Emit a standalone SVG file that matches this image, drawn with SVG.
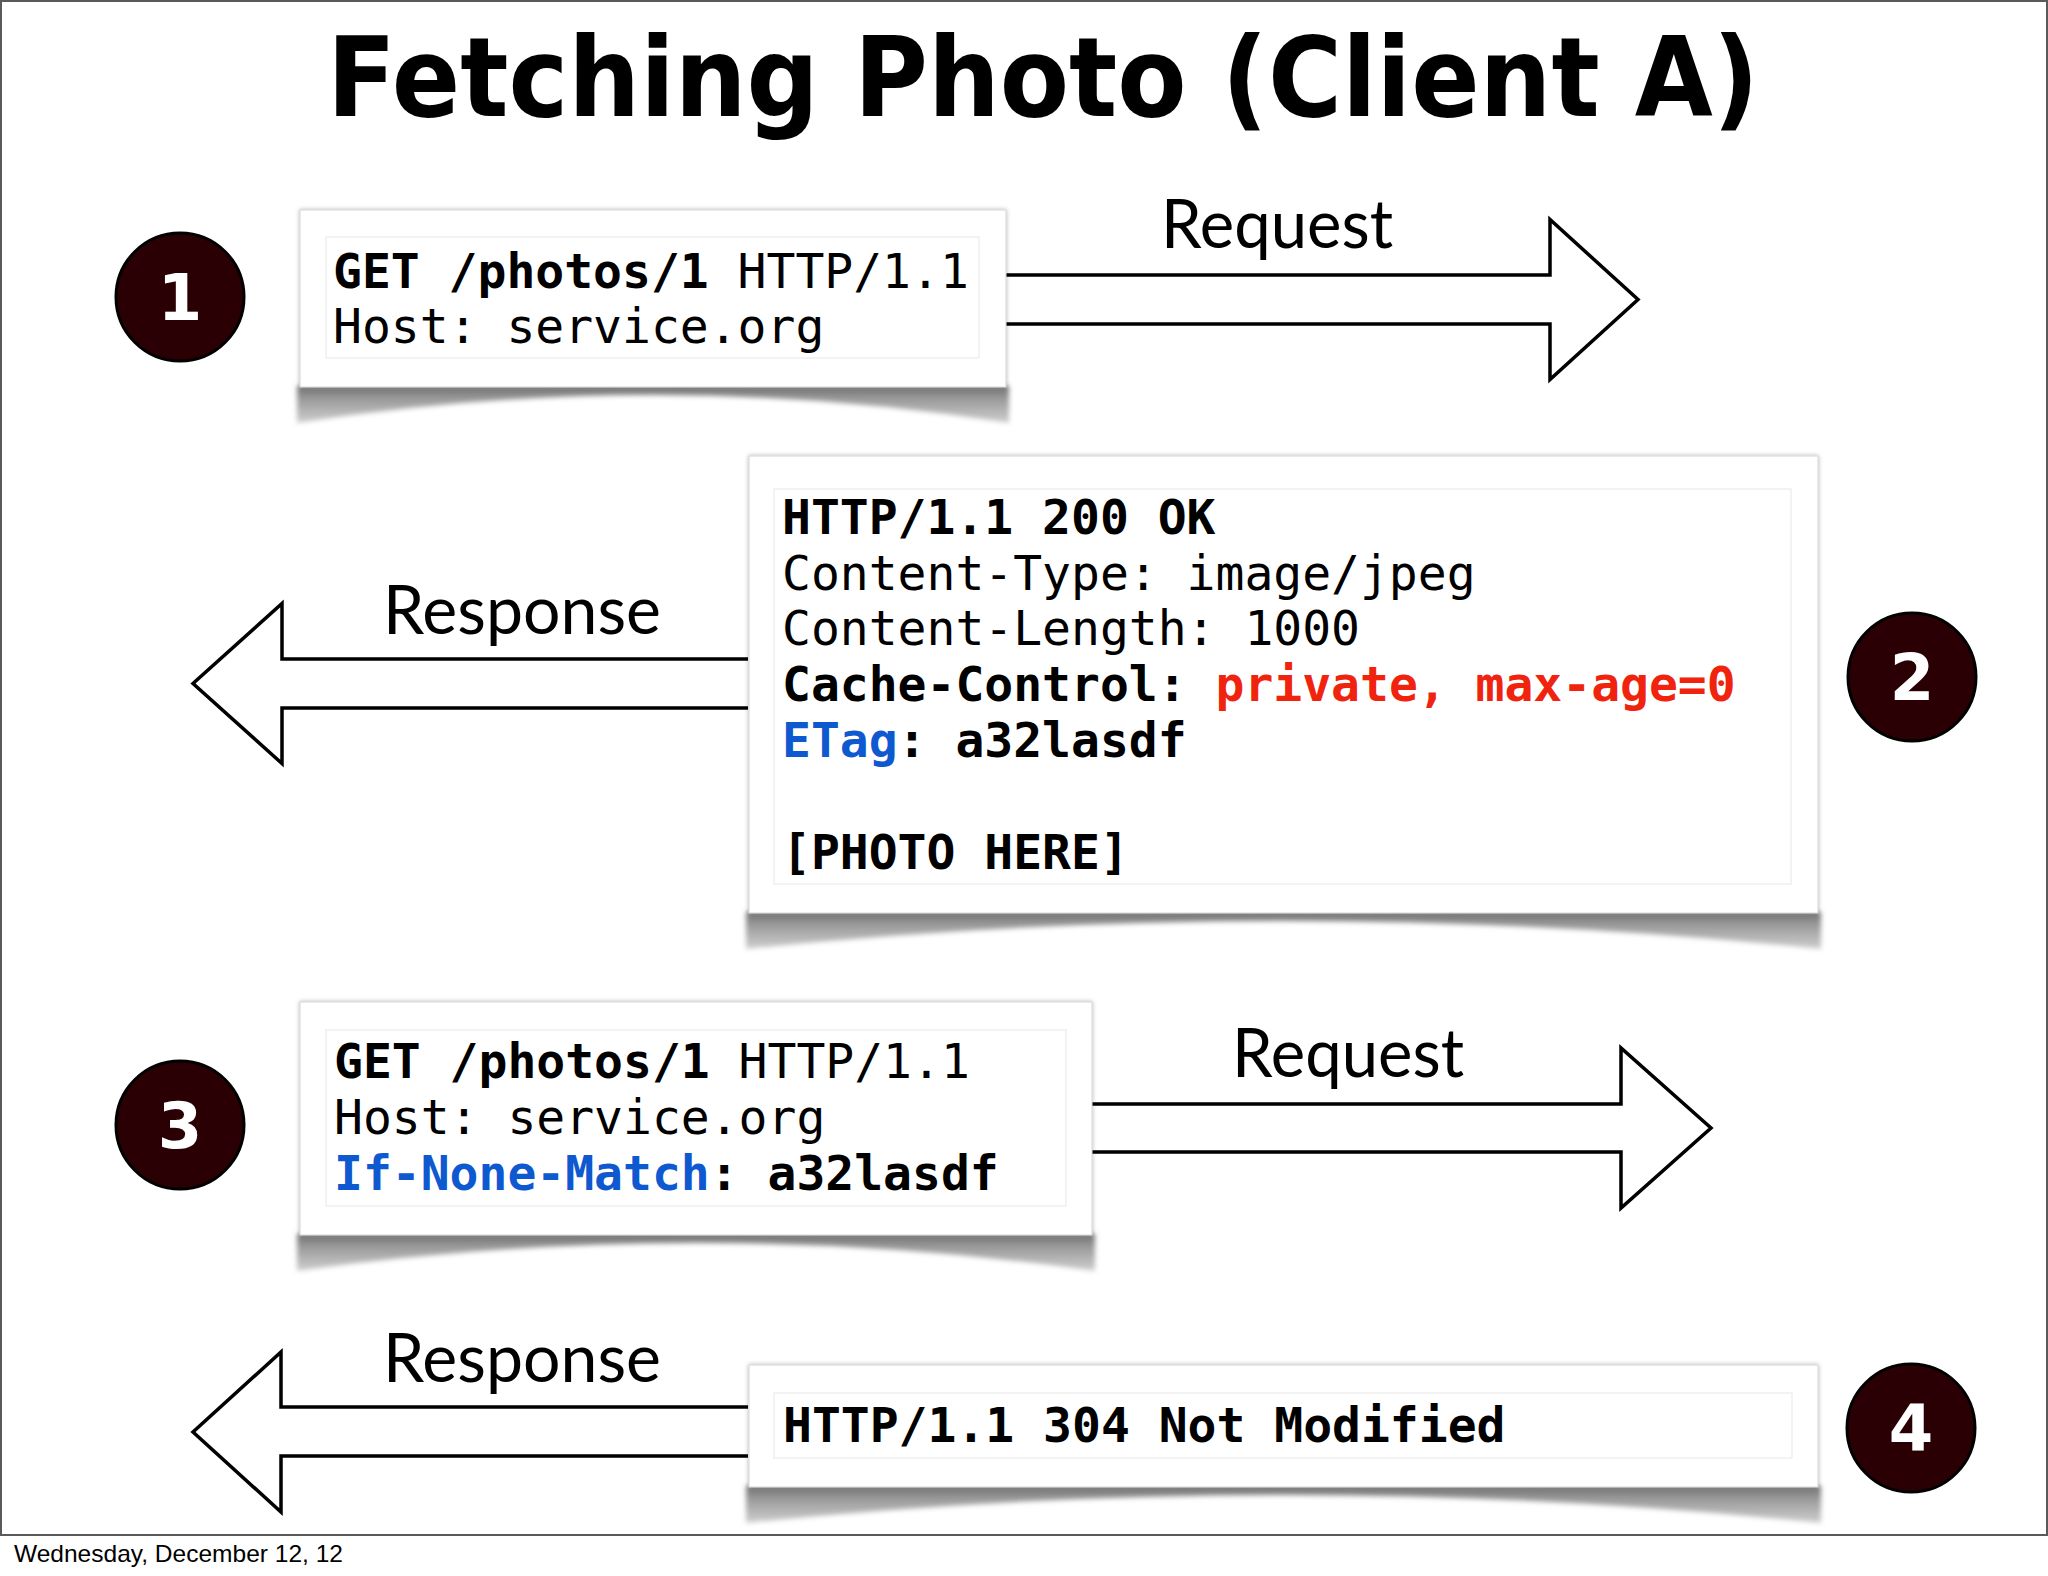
<svg xmlns="http://www.w3.org/2000/svg" width="2048" height="1576" viewBox="0 0 2048 1576">
<defs>
<style>
.mono{font-family:"DejaVu Sans Mono","Liberation Mono",monospace;font-size:48px;fill:#000}
.b{font-weight:bold}
.red{fill:#f0240e}
.blue{fill:#0e58d0}
.label{font-family:Lato,"Open Sans","Liberation Sans",sans-serif;font-size:67px;fill:#000}
.num{font-family:"DejaVu Sans","Liberation Sans",sans-serif;font-weight:bold;font-size:64px;fill:#fff;text-anchor:middle}
.badge{fill:#2a0005;stroke:#000;stroke-width:3}
.card{fill:#fff;stroke:#d4d4d4;stroke-width:1;filter:url(#edge)}
.inner{fill:#fff;stroke:#ebebeb;stroke-width:1.2}
.shadow{fill:url(#sg);filter:url(#blur)}
.arrow{fill:#fff;stroke:#000;stroke-width:3.5;stroke-linejoin:miter}
</style>
<linearGradient id="sg" x1="0" y1="0" x2="0" y2="1">
<stop offset="0" stop-color="#707070"/>
<stop offset="0.35" stop-color="#9a9a9a"/>
<stop offset="1" stop-color="#cfcfcf"/>
</linearGradient>
<filter id="blur" x="-5%" y="-50%" width="110%" height="200%"><feGaussianBlur stdDeviation="2.5"/></filter>
<filter id="edge" x="-5%" y="-5%" width="110%" height="110%"><feDropShadow dx="0" dy="0" stdDeviation="2" flood-color="#000" flood-opacity="0.3"/></filter>
</defs>
<rect x="0" y="0" width="2048" height="1576" fill="#fff"/>
<rect x="1" y="1" width="2046" height="1534" fill="none" stroke="#5a5a5a" stroke-width="2"/>
<text x="1043" y="116" text-anchor="middle" font-family="DejaVu Sans, Liberation Sans, sans-serif" font-weight="bold" font-size="111" textLength="1432" lengthAdjust="spacingAndGlyphs">Fetching Photo (Client A)</text>

<g id="connectors">
<polyline class="arrow" points="1006,275 1550,275 1550,219.5 1638,299.5 1550,379.5 1550,324 1006,324"/>
<text class="label" x="1161" y="248" textLength="232" lengthAdjust="spacingAndGlyphs">Request</text>
<polyline class="arrow" points="748,659 282,659 282,603.5 193,683.5 282,763.5 282,708 748,708"/>
<text class="label" x="383" y="634" textLength="278" lengthAdjust="spacingAndGlyphs">Response</text>
<polyline class="arrow" points="1092,1104 1621,1104 1621,1048 1711,1128 1621,1208 1621,1152 1092,1152"/>
<text class="label" x="1232" y="1077" textLength="232" lengthAdjust="spacingAndGlyphs">Request</text>
<polyline class="arrow" points="748,1407 281,1407 281,1352 193,1432 281,1512 281,1456 748,1456"/>
<text class="label" x="383" y="1382" textLength="278" lengthAdjust="spacingAndGlyphs">Response</text>
</g>

<g id="step1">
<path class="shadow" d="M297,386 L297,423 Q653,367 1009,423 L1009,386 Z"/>
<rect class="card" x="300" y="210" width="706" height="177"/>
<rect class="inner" x="326" y="237" width="653" height="121"/>
<text class="mono" x="333" y="288" xml:space="preserve"><tspan class="b">GET /photos/1</tspan> HTTP/1.1</text>
<text class="mono" x="333" y="343">Host: service.org</text>
<circle class="badge" cx="180" cy="297" r="64"/>
<text class="num" x="180" y="320">1</text>
</g>

<g id="step2">
<path class="shadow" d="M746,912 L746,949 Q1283,893 1821,949 L1821,912 Z"/>
<rect class="card" x="749" y="456" width="1069" height="457"/>
<rect class="inner" x="774" y="489" width="1017" height="395"/>
<text class="mono b" x="782" y="534">HTTP/1.1 200 OK</text>
<text class="mono" x="782" y="590">Content-Type: image/jpeg</text>
<text class="mono" x="782" y="645">Content-Length: 1000</text>
<text class="mono b" x="782" y="701" xml:space="preserve">Cache-Control: <tspan class="red">private, max-age=0</tspan></text>
<text class="mono b" x="782" y="757"><tspan class="blue">ETag</tspan>: a32lasdf</text>
<text class="mono b" x="782" y="869">[PHOTO HERE]</text>
<circle class="badge" cx="1912" cy="677" r="64"/>
<text class="num" x="1912" y="700">2</text>
</g>

<g id="step3">
<path class="shadow" d="M297,1234 L297,1271 Q696,1215 1095,1271 L1095,1234 Z"/>
<rect class="card" x="300" y="1002" width="792" height="233"/>
<rect class="inner" x="326" y="1030" width="740" height="176"/>
<text class="mono" x="334" y="1078" xml:space="preserve"><tspan class="b">GET /photos/1</tspan> HTTP/1.1</text>
<text class="mono" x="334" y="1134">Host: service.org</text>
<text class="mono b" x="334" y="1190"><tspan class="blue">If-None-Match</tspan>: a32lasdf</text>
<circle class="badge" cx="180" cy="1125" r="64"/>
<text class="num" x="180" y="1148">3</text>
</g>

<g id="step4">
<path class="shadow" d="M746,1486 L746,1523 Q1283,1467 1821,1523 L1821,1486 Z"/>
<rect class="card" x="749" y="1365" width="1069" height="122"/>
<rect class="inner" x="774" y="1393" width="1018" height="65"/>
<text class="mono b" x="783" y="1442">HTTP/1.1 304 Not Modified</text>
<circle class="badge" cx="1911" cy="1428" r="64"/>
<text class="num" x="1911" y="1451">4</text>
</g>

<text x="14" y="1562" font-family="Liberation Sans, Arial, sans-serif" font-size="24" fill="#000" textLength="329" lengthAdjust="spacingAndGlyphs">Wednesday, December 12, 12</text>
</svg>
